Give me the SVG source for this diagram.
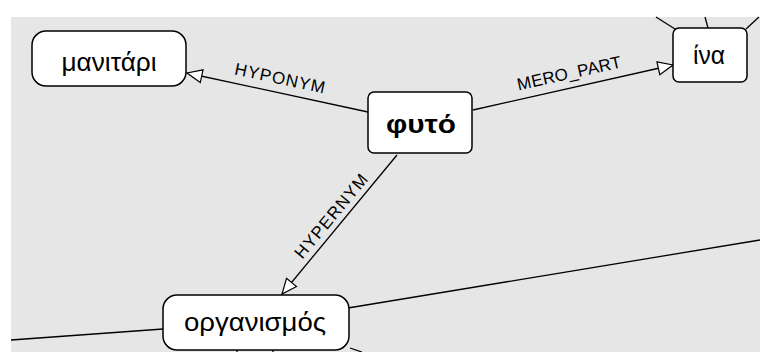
<svg xmlns="http://www.w3.org/2000/svg" width="760" height="352" viewBox="0 0 760 352">
<defs>
<marker id="arr" markerUnits="userSpaceOnUse" markerWidth="20" markerHeight="18" refX="16" refY="8" orient="auto">
<path d="M1,1.5 L16,8 L1,14.5 Z" fill="#fff" stroke="#000" stroke-width="1.2"/>
</marker>
<style>
.node{fill:#fff;stroke:#000;stroke-width:1.5}
.lbl{font-family:"Liberation Sans",Arial,sans-serif;font-size:26px;fill:#000;text-anchor:middle}
.edge{stroke:#000;stroke-width:1.3;fill:none}
.elbl{font-family:"Liberation Sans",Arial,sans-serif;font-size:17px;fill:#000;text-anchor:middle}
</style>
</defs>
<rect x="0" y="0" width="760" height="352" fill="#fff"/>
<rect x="11" y="17" width="749" height="335" fill="#e6e6e6"/>
<g id="connectors">
<line class="edge" x1="368" y1="112" x2="187" y2="73" marker-end="url(#arr)"/>
<line class="edge" x1="473" y1="110" x2="673" y2="65" marker-end="url(#arr)"/>
<line class="edge" x1="397" y1="155" x2="282" y2="294" marker-end="url(#arr)"/>
<line class="edge" x1="675" y1="29" x2="656" y2="17"/>
<line class="edge" x1="708" y1="28" x2="705" y2="17"/>
<line class="edge" x1="746" y1="29" x2="759" y2="17"/>
<line class="edge" x1="163" y1="329" x2="11" y2="340"/>
<line class="edge" x1="348" y1="308" x2="760" y2="240"/>
<line class="edge" x1="237" y1="350" x2="237" y2="352"/>
<line class="edge" x1="273" y1="350" x2="273" y2="352"/>
<line class="edge" x1="350" y1="348" x2="362" y2="352"/>
<text class="elbl" transform="translate(280,78) rotate(12.2)" x="0" y="6" textLength="92" lengthAdjust="spacing">HYPONYM</text>
<text class="elbl" transform="translate(569,73) rotate(-12.7)" x="0" y="6" textLength="106" lengthAdjust="spacing">MERO_PART</text>
<text class="elbl" transform="translate(331,216) rotate(-50.2)" x="0" y="6" textLength="104" lengthAdjust="spacing">HYPERNYM</text>
</g>
<g id="n-manitari">
<rect class="node" x="32" y="31" width="154" height="55" rx="14" ry="14"/>
<text class="lbl" x="109" y="71" textLength="95" lengthAdjust="spacingAndGlyphs">μανιτάρι</text>
</g>
<g id="n-fyto">
<rect class="node" x="368" y="92" width="104" height="61" rx="6" ry="6"/>
<text class="lbl" x="421" y="133" font-weight="bold" textLength="70" lengthAdjust="spacingAndGlyphs">φυτό</text>
</g>
<g id="n-ina">
<rect class="node" x="673" y="28" width="74" height="54" rx="6" ry="6"/>
<text class="lbl" x="709" y="64" textLength="32" lengthAdjust="spacingAndGlyphs">ίνα</text>
</g>
<g id="n-organismos">
<rect class="node" x="163" y="295" width="186" height="55" rx="14" ry="14"/>
<text class="lbl" x="255" y="331" textLength="142" lengthAdjust="spacingAndGlyphs">οργανισμός</text>
</g>
</svg>
